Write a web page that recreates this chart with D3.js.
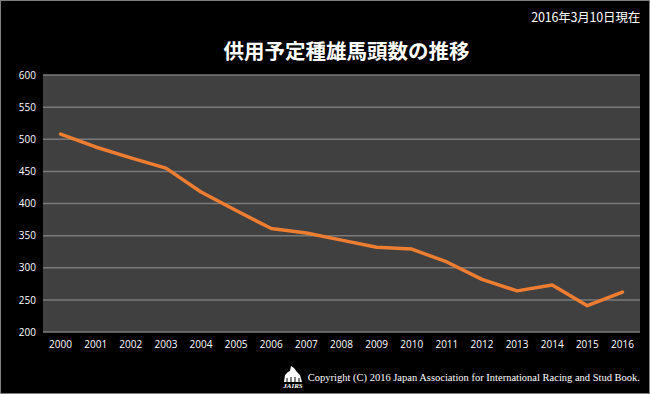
<!DOCTYPE html>
<html>
<head>
<meta charset="utf-8">
<script src="https://cdn.jsdelivr.net/npm/d3@7"></script>
<style>
  html, body { margin: 0; padding: 0; background: #000; }
  svg { display: block; }
</style>
</head>
<body>
<svg width="650" height="394"></svg>
<script>
// values
var years = ["2000","2001","2002","2003","2004","2005","2006","2007","2008",
             "2009","2010","2011","2012","2013","2014","2015","2016"];
var stallions = [508, 488, 471, 455, 418, 389, 361, 354, 343,
                 332, 329, 309, 282, 264, 273, 241, 262];
var yTicks = [200, 250, 300, 350, 400, 450, 500, 550, 600];

var W = 650, H = 394;
var plot = { left: 43, top: 75, right: 640, bottom: 332 };

var svg = d3.select("svg");

// page background with thin gray frame
svg.append("rect")
    .attr("x", 0.5).attr("y", 0.5)
    .attr("width", W - 1).attr("height", H - 1)
    .attr("fill", "#000").attr("stroke", "#7f7f7f");

var scX = d3.scaleBand()
    .domain(years)
    .range([plot.left, plot.right]);
var scY = d3.scaleLinear()
    .domain([200, 600])
    .range([plot.bottom, plot.top]);

// plot area
svg.append("rect")
    .attr("x", plot.left).attr("y", plot.top)
    .attr("width", plot.right - plot.left)
    .attr("height", plot.bottom - plot.top)
    .attr("fill", "#404040");

// gridlines
svg.append("g")
    .selectAll("line")
    .data(yTicks).enter().append("line")
    .attr("x1", plot.left).attr("x2", plot.right)
    .attr("y1", d => scY(d)).attr("y2", d => scY(d))
    .attr("stroke", "#7a7a7a").attr("stroke-width", 1.5);

// y axis labels
var yAxis = svg.append("g")
    .attr("transform", "translate(" + (plot.left - 7) + ",0)")
    .call(d3.axisLeft(scY).tickValues(yTicks).tickSize(0).tickPadding(0));
yAxis.select(".domain").remove();
yAxis.selectAll("text")
    .attr("fill", "#fff")
    .style("font-family", "'Open Sans', 'Liberation Sans', sans-serif")
    .style("font-size", "10px");

// x axis labels
var xAxis = svg.append("g")
    .attr("transform", "translate(0," + (plot.bottom + 9) + ")")
    .call(d3.axisBottom(scX).tickSize(0).tickPadding(0));
xAxis.select(".domain").remove();
xAxis.selectAll("text")
    .attr("fill", "#fff")
    .style("font-family", "'Open Sans', 'Liberation Sans', sans-serif")
    .style("font-size", "10px");

// line
var lineMaker = d3.line()
    .x((d, i) => scX(years[i]) + scX.bandwidth() / 2)
    .y(d => scY(d));
svg.append("path")
    .attr("fill", "none")
    .attr("stroke", "#ed7d31")
    .attr("stroke-width", 3.5)
    .attr("stroke-linejoin", "round")
    .attr("stroke-linecap", "round")
    .attr("d", lineMaker(stallions));

// title
svg.append("text")
    .attr("x", 346.5).attr("y", 59)
    .attr("text-anchor", "middle")
    .attr("fill", "#fff")
    .style("font-family", "'Noto Sans CJK JP', sans-serif")
    .style("font-weight", "bold")
    .style("font-size", "20.5px")
    .text("供用予定種雄馬頭数の推移");

// date note
svg.append("text")
    .attr("x", 640).attr("y", 22)
    .attr("text-anchor", "end")
    .attr("fill", "#fff")
    .style("font-family", "'Noto Sans CJK JP', sans-serif")
    .style("font-size", "12.5px")
    .style("letter-spacing", "-0.2px")
    .text("2016年3月10日現在");

// small logo mark
var logo = svg.append("g").attr("transform", "translate(293,377)");
logo.append("path")
    .attr("d", "M-9,5 L-8,-2 L-5,-5 L-3,-6 L-2,-11 L1,-9 L4,-5 L7,-2 L9,5 Z")
    .attr("fill", "#fff");
logo.append("path")
    .attr("d", "M-6,5 L-6,1 M-2,5 L-2,0 M2,5 L2,0 M6,5 L6,1")
    .attr("stroke", "#000").attr("stroke-width", 1);
logo.append("text")
    .attr("y", 11)
    .attr("text-anchor", "middle")
    .attr("fill", "#fff")
    .style("font-family", "'Liberation Serif', serif")
    .style("font-style", "italic")
    .style("font-weight", "bold")
    .style("font-size", "7px")
    .text("JAIRS");

// copyright
svg.append("text")
    .attr("x", 640).attr("y", 381)
    .attr("text-anchor", "end")
    .attr("fill", "#fff")
    .style("font-family", "'Liberation Serif', 'DejaVu Serif', serif")
    .style("font-size", "10.5px")
    .text("Copyright (C) 2016 Japan Association for International Racing and Stud Book.");
</script>
</body>
</html>
